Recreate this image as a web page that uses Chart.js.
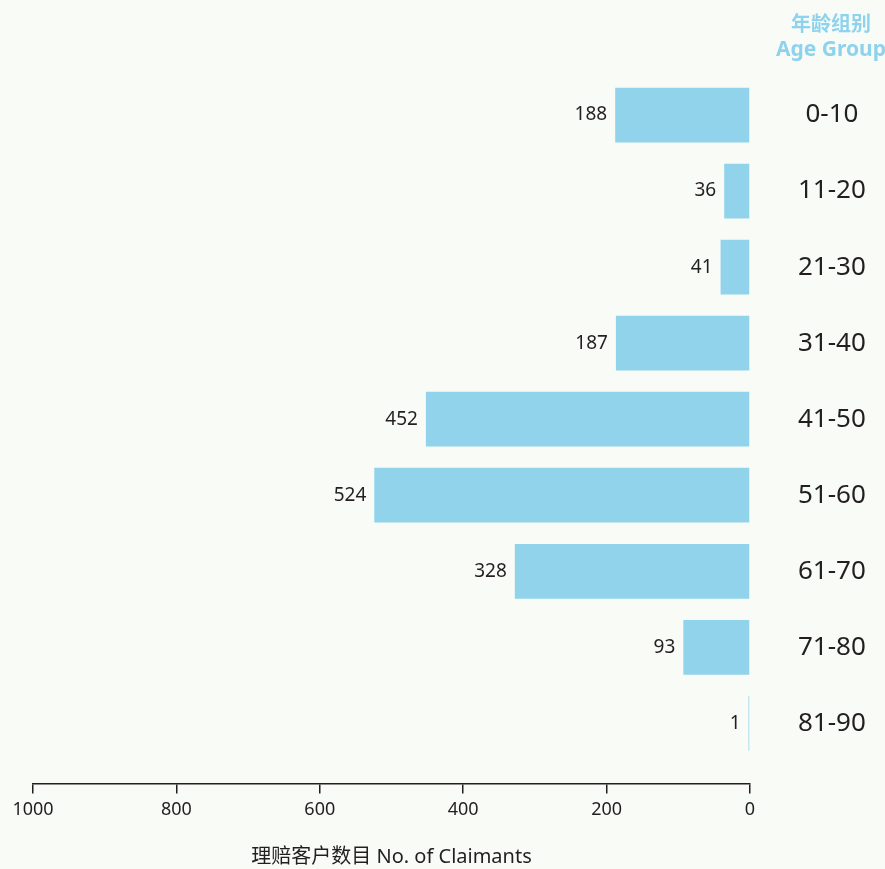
<!DOCTYPE html>
<html>
<head>
<meta charset="utf-8">
<script src="https://cdn.jsdelivr.net/npm/chart.js@4"></script>
<style>
  html, body { margin: 0; padding: 0; background: #f9fbf7; }
  #wrap { width: 885px; height: 869px; }
</style>
</head>
<body>
<div id="wrap"><canvas id="chart"></canvas></div>
<script>
const categories = ["0-10", "11-20", "21-30", "31-40", "41-50", "51-60", "61-70", "71-80", "81-90"];
const claimants = [188, 36, 41, 187, 452, 524, 328, 93, 1];
const xTicks = [0, 200, 400, 600, 800, 1000];

const dark = "#231f20";
const blue = "#90d3eb";
const fontFamily = "'Noto Sans', 'Noto Sans CJK SC', sans-serif";

const background = {
  id: "background",
  beforeDraw(chart) {
    const ctx = chart.ctx;
    ctx.save();
    ctx.fillStyle = "#f9fbf7";
    ctx.fillRect(0, 0, chart.width, chart.height);
    ctx.restore();
  },
};

// value labels to the left of each bar
const valueLabels = {
  id: "valueLabels",
  afterDatasetsDraw(chart) {
    const ctx = chart.ctx;
    const meta = chart.getDatasetMeta(0);
    ctx.save();
    ctx.font = "19px " + fontFamily;
    ctx.fillStyle = dark;
    ctx.textAlign = "right";
    ctx.textBaseline = "middle";
    meta.data.forEach((bar, i) => {
      ctx.fillText(String(claimants[i]), bar.x - 8, bar.y);
    });
    ctx.restore();
  },
};

// header above the age group labels
const header = {
  id: "header",
  afterDraw(chart) {
    const ctx = chart.ctx;
    const y = chart.scales.y;
    const cx = y.left + 81;
    ctx.save();
    ctx.fillStyle = "#8dd3ed";
    ctx.textAlign = "center";
    ctx.textBaseline = "middle";
    ctx.font = "bold 20px " + fontFamily;
    ctx.fillText("年龄组别", cx, 25);
    ctx.font = "bold 21px " + fontFamily;
    ctx.fillText("Age Group", cx, 50);
    ctx.restore();
  },
};

new Chart(document.getElementById("chart"), {
  type: "bar",
  data: {
    datasets: [
      {
        data: claimants.map((v, i) => ({ x: v, y: i })),
        backgroundColor: blue,
        borderWidth: 0,
        minBarLength: 1.5,
        categoryPercentage: 1,
        barPercentage: 0.72,
      },
    ],
  },
  options: {
    indexAxis: "y",
    responsive: true,
    maintainAspectRatio: false,
    animation: false,
    layout: { padding: { left: 33, top: 77, right: 0, bottom: 0 } },
    plugins: {
      legend: { display: false },
      tooltip: { enabled: false },
    },
    scales: {
      x: {
        type: "linear",
        reverse: true,
        min: 0,
        max: 1000,
        afterBuildTicks: (s) => {
          s.ticks = xTicks.map((v) => ({ value: v }));
        },
        grid: {
          drawOnChartArea: false,
          drawTicks: true,
          tickLength: 10,
          color: dark,
          lineWidth: 1.5,
        },
        border: { display: true, color: dark, width: 1.5 },
        ticks: {
          color: dark,
          padding: 6,
          maxRotation: 0,
          callback: (v) => String(v),
          font: { family: fontFamily, size: 18 },
        },
        title: {
          display: true,
          text: "理赔客户数目 No. of Claimants",
          color: dark,
          font: { family: fontFamily, size: 20 },
          padding: { top: 18, bottom: 0 },
        },
      },
      y: {
        type: "linear",
        position: "right",
        reverse: true,
        offset: false,
        min: -0.5,
        max: 8.79,
        afterBuildTicks: (s) => {
          s.ticks = categories.map((c, i) => ({ value: i }));
        },
        afterFit: (s) => {
          s.width = 135;
        },
        grid: { display: false, offset: false },
        border: { display: false },
        ticks: {
          callback: (v) => categories[v],
          crossAlign: "center",
          padding: 40,
          color: dark,
          font: { family: fontFamily, size: 26 },
        },
      },
    },
  },
  plugins: [background, valueLabels, header],
});
</script>
</body>
</html>
